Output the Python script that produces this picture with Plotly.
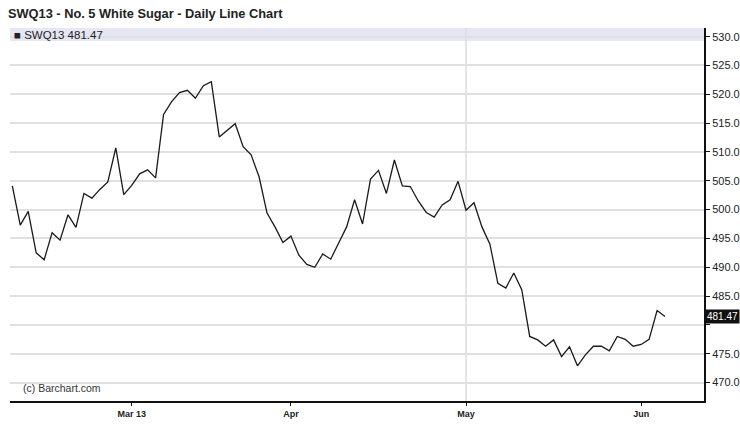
import pandas as pd
import plotly.graph_objects as go

# Trading days (weekends and exchange holidays removed)
holidays = ["2013-02-18", "2013-03-29", "2013-05-27"]
dates = [d.strftime("%Y-%m-%d") for d in pd.bdate_range("2013-02-07", "2013-06-06")
         if d.strftime("%Y-%m-%d") not in holidays]

closes = [
    504.1, 497.3, 499.7, 492.5, 491.3, 496.0, 494.7, 499.1, 496.9, 502.8,
    502.0, 503.5, 504.8, 510.7, 502.6, 504.2, 506.2, 506.9, 505.5, 516.5,
    518.7, 520.3, 520.7, 519.3, 521.5, 522.2, 512.6, 513.8, 514.9, 510.9,
    509.5, 505.7, 499.4, 497.0, 494.3, 495.4, 492.1, 490.5, 490.0, 492.3,
    491.4, 494.2, 497.0, 501.7, 497.5, 505.3, 506.8, 502.8, 508.6, 504.1,
    504.0, 501.5, 499.5, 498.7, 500.8, 501.7, 504.9, 499.9, 501.2, 497.0,
    494.0, 487.2, 486.4, 489.0, 486.1, 478.0, 477.4, 476.3, 477.4, 474.5,
    476.2, 472.9, 474.8, 476.3, 476.3, 475.5, 478.0, 477.5, 476.3, 476.6,
    477.5, 482.5, 481.47,
]

month_tick_dates = ["2013-03-01", "2013-04-01", "2013-05-01", "2013-06-03"]
month_tick_text = ["Mar 13", "Apr", "May", "Jun"]

y_tick_vals = [470, 475, 480, 485, 490, 495, 500, 505, 510, 515, 520, 525, 530]
# the 480.0 label is hidden behind the last-price tag in the original
y_tick_text = ["470.0", "475.0", "", "485.0", "490.0", "495.0", "500.0",
               "505.0", "510.0", "515.0", "520.0", "525.0", "530.0"]

symbol = "SWQ13"
title_text = "SWQ13 - No. 5 White Sugar - Daily Line Chart"
last_close = closes[-1]

W, H = 740, 435
ML, MR, MT, MB = 10, 36, 28, 34
PW, PH = W - ML - MR, H - MT - MB

fig = go.Figure()
fig.add_trace(go.Scatter(
    x=dates, y=closes, mode="lines",
    line=dict(color="#1a1a1a", width=1.3),
    hoverinfo="x+y", showlegend=False,
))

FONT = "Liberation Sans, Arial, sans-serif"

fig.update_layout(
    width=W, height=H,
    margin=dict(l=ML, r=MR, t=MT, b=MB, autoexpand=False),
    paper_bgcolor="white", plot_bgcolor="white",
    font=dict(family=FONT, size=9, color="#333"),
    title=dict(text="<b>" + title_text + "</b>", x=8 / W, xanchor="left",
               y=1 - 14 / H, yanchor="middle",
               font=dict(family=FONT, size=12.8, color="#222")),
    xaxis=dict(
        type="category", range=[-0.29, -0.29 + PW / 7.96], automargin=False,
        tickmode="array", tickvals=month_tick_dates,
        ticktext=["<b>" + t + "</b>" for t in month_tick_text],
        showgrid=False, zeroline=False,
        showline=True, linecolor="#111", linewidth=2,
        ticks="outside", ticklen=3, tickcolor="#111",
        tickfont=dict(size=9, color="#222"),
    ),
    yaxis=dict(
        side="right", range=[466.8, 531.5], automargin=False,
        tickmode="array", tickvals=y_tick_vals, ticktext=y_tick_text,
        showgrid=True, gridcolor="#e0e0e0", gridwidth=1.5, zeroline=False,
        showline=True, linecolor="#111", linewidth=2,
        ticks="outside", ticklen=4, tickcolor="#111",
        tickfont=dict(size=11, color="#222"),
    ),
)

# legend band across the top of the plot
fig.add_shape(type="rect", xref="paper", yref="paper", x0=0, x1=1,
              y0=1 - 13 / PH, y1=1, fillcolor="#e6e6f5", line=dict(width=0),
              layer="below")
# May vertical grid line
fig.add_shape(type="line", xref="x", yref="paper", x0="2013-05-01", x1="2013-05-01",
              y0=0, y1=1, line=dict(color="#dddddd", width=1.5), layer="below")

fig.add_annotation(xref="paper", yref="paper", x=2 / PW, y=1 - 6.5 / PH,
                   xanchor="left", yanchor="middle", showarrow=False,
                   text=f"\u25A0 {symbol} {last_close:.2f}",
                   font=dict(size=11.5, color="#222"))
fig.add_annotation(xref="paper", yref="paper", x=11 / PW, y=13 / PH,
                   xanchor="left", yanchor="middle", showarrow=False,
                   text="(c) Barchart.com", font=dict(size=10.5, color="#333"))
# last value tag on the price axis
fig.add_annotation(xref="paper", yref="y", x=1, y=last_close, xanchor="left",
                   yanchor="middle", showarrow=False, text=f"{last_close:.2f}",
                   bgcolor="#111", font=dict(size=10, color="white"),
                   borderpad=1, xshift=1)

fig.write_html("out.html", config={"displayModeBar": False},
               post_script="document.body.style.margin='0px';")
